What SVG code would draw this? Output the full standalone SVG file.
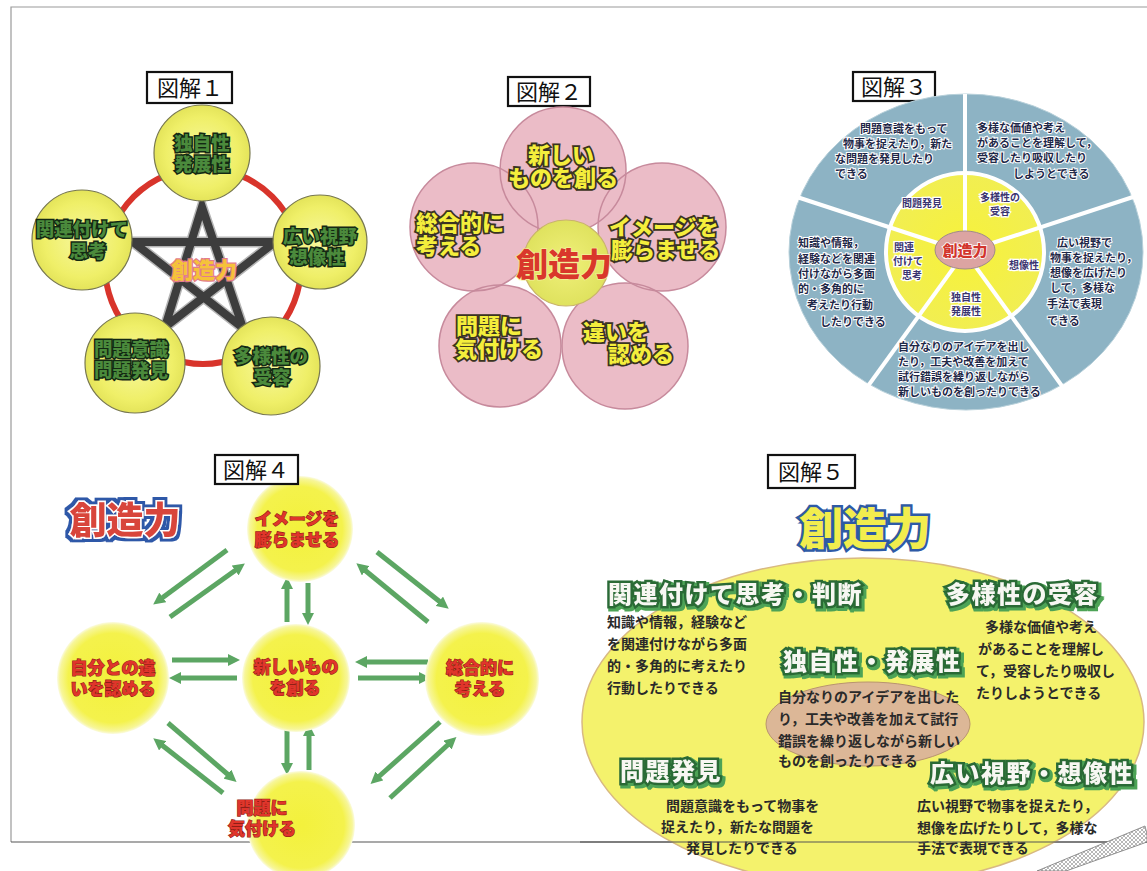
<svg xmlns="http://www.w3.org/2000/svg" width="1147" height="871" viewBox="0 0 1147 871">
<style>
text{font-family:'Noto Sans CJK JP','Noto Sans CJK SC',sans-serif;}
.box{fill:#fff;stroke:#111;stroke-width:2.2}
.ttl{font-size:22px;fill:#111;text-anchor:middle}
.n1{fill:url(#g1);stroke:#77774f;stroke-width:1.2}
.l1{font-size:18.5px;font-weight:900;fill:#4b8a3c;stroke:#132813;stroke-width:3;paint-order:stroke;text-anchor:middle}
.pf{fill:#ebbcc7}
.po{fill:none;stroke:#c78a9c;stroke-width:1.5}
.l2{font-size:22px;font-weight:900;fill:#f4ee3c;stroke:#3a3322;stroke-width:3.6;paint-order:stroke}
.l3o{font-size:11px;font-weight:700;fill:#1f2848;stroke:#fff;stroke-width:2;paint-order:stroke}
.l3i{font-size:10px;font-weight:700;fill:#3b3470;stroke:#fff;stroke-width:2.4;paint-order:stroke;text-anchor:middle}
.sep{stroke:#fff;stroke-width:4}
.n4{fill:url(#g4)}
.l4{font-size:17px;font-weight:900;fill:#e0352b;stroke:#8f1e16;stroke-width:1.2;paint-order:stroke;text-anchor:middle}
.ar{fill:none;stroke:#5ca663;stroke-width:5;marker-end:url(#ah)}
.h5{font-size:24px;font-weight:900;fill:#f7f7f2;stroke:#2a6a36;stroke-width:5;paint-order:stroke;letter-spacing:1.5px;filter:url(#sh)}
.b5{font-size:14px;font-weight:700;fill:#2a2a2a}
</style>
<defs>
<radialGradient id="g1" cx="0.5" cy="0.5" r="0.5"><stop offset="0" stop-color="#f7f79c"/><stop offset="0.75" stop-color="#efef68"/><stop offset="1" stop-color="#e4e45a"/></radialGradient>
<radialGradient id="g2" cx="0.5" cy="0.5" r="0.5"><stop offset="0" stop-color="#f0f07a"/><stop offset="1" stop-color="#dfe25e"/></radialGradient>
<radialGradient id="g3" cx="0.5" cy="0.5" r="0.5"><stop offset="0" stop-color="#f7f23a"/><stop offset="1" stop-color="#f1ee52"/></radialGradient>
<radialGradient id="g4" cx="0.5" cy="0.5" r="0.5"><stop offset="0" stop-color="#f3f13c"/><stop offset="0.8" stop-color="#f4f24c"/><stop offset="0.95" stop-color="#f7f69a"/><stop offset="1" stop-color="#fbfbe2"/></radialGradient>
<marker id="ah" viewBox="0 0 10 10" refX="5" refY="5" markerWidth="2.4" markerHeight="2.4" orient="auto"><path d="M0,0 L10,5 L0,10 z" fill="#5ca663"/></marker>
<filter id="ob" x="-20%" y="-30%" width="140%" height="160%"><feMorphology in="SourceAlpha" operator="dilate" radius="2.5" result="d"/><feFlood flood-color="#2f58a8"/><feComposite in2="d" operator="in" result="o"/><feMerge><feMergeNode in="o"/><feMergeNode in="SourceGraphic"/></feMerge></filter>
<filter id="sh" x="-10%" y="-30%" width="120%" height="160%"><feMorphology in="SourceAlpha" operator="dilate" radius="1" result="d"/><feOffset in="d" dx="1.5" dy="1.5" result="o"/><feFlood flood-color="#4ea356"/><feComposite in2="o" operator="in" result="s"/><feMerge><feMergeNode in="s"/><feMergeNode in="SourceGraphic"/></feMerge></filter>
<pattern id="hatch" width="4" height="4" patternUnits="userSpaceOnUse"><rect width="4" height="4" fill="#fff"/><path d="M0,4 L4,0 M0,0 L4,4" stroke="#888" stroke-width="0.6"/></pattern>
</defs>

<!-- page frame -->
<g id="frame" fill="none">
<path d="M11,842 L11,7 L1147,7" stroke="#9a9a9a" stroke-width="1.2"/>
<path d="M11,842 L1147,842" stroke="#555" stroke-width="1.2"/>
</g>

<!-- ===== Diagram 1 ===== -->
<g id="d1">
<g id="d1-title"><rect class="box" x="147" y="72" width="85" height="31"/><text class="ttl" x="190" y="96">図解１</text></g>
<g id="d1-connectors">
<circle cx="203" cy="266" r="98" fill="none" stroke="#d8342b" stroke-width="6"/>
<path d="M202,207 L165,327 L275,242 L133,242 L243,328 Z" fill="none" stroke="#b5b5b5" stroke-width="11" stroke-linejoin="miter"/>
<path d="M202,207 L165,327 L275,242 L133,242 L243,328 Z" fill="none" stroke="#3d3d3d" stroke-width="8" stroke-linejoin="miter"/>
</g>
<g id="d1-top"><circle class="n1" cx="202" cy="153" r="48"/><text class="l1"><tspan x="202" y="150">独自性</tspan><tspan x="202" y="171">発展性</tspan></text></g>
<g id="d1-left"><circle class="n1" cx="82" cy="240" r="50"/><text class="l1"><tspan x="82" y="236">関連付けて</tspan><tspan x="88" y="258">思考</tspan></text></g>
<g id="d1-right"><circle class="n1" cx="320" cy="242" r="47"/><text class="l1"><tspan x="320" y="243">広い視野</tspan><tspan x="317" y="264">想像性</tspan></text></g>
<g id="d1-bl"><circle class="n1" cx="135" cy="363" r="50"/><text class="l1"><tspan x="131" y="356">問題意識</tspan><tspan x="131" y="377">問題発見</tspan></text></g>
<g id="d1-br"><circle class="n1" cx="271" cy="366" r="49"/><text class="l1"><tspan x="271" y="363">多様性の</tspan><tspan x="272" y="384">受容</tspan></text></g>
<g id="d1-center"><text x="204" y="278" font-size="22" font-weight="900" fill="#f5c23a" stroke="#e27d8c" stroke-width="2.5" paint-order="stroke" text-anchor="middle">創造力</text></g>
</g>

<!-- ===== Diagram 2 ===== -->
<g id="d2">
<g id="d2-title"><rect class="box" x="508" y="77" width="82" height="29"/><text class="ttl" x="549" y="100">図解２</text></g>
<g id="d2-petals">
<circle class="pf" cx="500" cy="346" r="61"/>
<circle class="pf" cx="625" cy="346" r="63"/>
<circle class="pf" cx="474" cy="227" r="64"/>
<circle class="pf" cx="662" cy="227" r="64"/>
<circle class="pf" cx="563" cy="170" r="63"/>
<circle class="po" cx="500" cy="346" r="61"/>
<circle class="po" cx="625" cy="346" r="63"/>
<circle class="po" cx="474" cy="227" r="64"/>
<circle class="po" cx="662" cy="227" r="64"/>
<circle class="po" cx="563" cy="170" r="63"/>
</g>
<g id="d2-n1"><text class="l2" text-anchor="middle"><tspan x="561" y="163">新しい</tspan><tspan x="563" y="186">ものを創る</tspan></text></g>
<g id="d2-n2"><text class="l2"><tspan x="416" y="231">総合的に</tspan><tspan x="416" y="254">考える</tspan></text></g>
<g id="d2-n3"><text class="l2"><tspan x="609" y="235">イメージを</tspan><tspan x="611" y="258">膨らませる</tspan></text></g>
<g id="d2-n4"><text class="l2"><tspan x="456" y="334">問題に</tspan><tspan x="455" y="357">気付ける</tspan></text></g>
<g id="d2-n5"><text class="l2"><tspan x="583" y="340">違いを</tspan><tspan x="608" y="362">認める</tspan></text></g>
<g id="d2-center"><circle cx="566" cy="263" r="43" fill="url(#g2)" stroke="#c9b46a" stroke-width="1.2"/><text x="564" y="276" font-size="32" font-weight="900" fill="#d9372b" stroke="#f3ef9a" stroke-width="1.5" paint-order="stroke" text-anchor="middle">創造力</text></g>
</g>

<!-- ===== Diagram 3 ===== -->
<g id="d3">
<g id="d3-title"><rect class="box" x="853" y="72" width="82" height="29"/><text class="ttl" x="894" y="95">図解３</text></g>
<g id="d3-wheel">
<ellipse cx="966" cy="252" rx="177" ry="158" fill="#8db3c4" stroke="#b7d0da" stroke-width="1"/>
<circle cx="965" cy="252" r="79" fill="url(#g3)" stroke="#fff" stroke-width="4"/>
<line class="sep" x1="965" y1="252" x2="965" y2="94"/>
<line class="sep" x1="965" y1="252" x2="1133" y2="197"/>
<line class="sep" x1="965" y1="252" x2="1062" y2="386"/>
<line class="sep" x1="965" y1="252" x2="868" y2="386"/>
<line class="sep" x1="965" y1="252" x2="797" y2="197"/>
<ellipse cx="965" cy="250" rx="30" ry="19" fill="#dca4a2" stroke="#a08a8a" stroke-width="1"/>
<text x="965" y="256" font-size="15" font-weight="900" fill="#d2352d" stroke="#fff" stroke-width="1.5" paint-order="stroke" text-anchor="middle">創造力</text>
</g>
<g id="d3-s1"><text class="l3i" x="922" y="207">問題発見</text>
<text class="l3o"><tspan x="860" y="133">問題意識をもって</tspan><tspan x="843" y="148">物事を捉えたり，新た</tspan><tspan x="835" y="163">な問題を発見したり</tspan><tspan x="835" y="178">できる</tspan></text></g>
<g id="d3-s2"><text class="l3i"><tspan x="1000" y="201">多様性の</tspan><tspan x="1000" y="215">受容</tspan></text>
<text class="l3o"><tspan x="977" y="132">多様な価値や考え</tspan><tspan x="977" y="147">があることを理解して，</tspan><tspan x="977" y="162">受容したり吸収したり</tspan><tspan x="1013" y="178">しようとできる</tspan></text></g>
<g id="d3-s3"><text class="l3i" x="1024" y="269">想像性</text>
<text class="l3o"><tspan x="1057" y="247">広い視野で</tspan><tspan x="1050" y="262">物事を捉えたり，</tspan><tspan x="1050" y="277">想像を広げたり</tspan><tspan x="1050" y="292">して，多様な</tspan><tspan x="1047" y="308">手法で表現</tspan><tspan x="1047" y="325">できる</tspan></text></g>
<g id="d3-s4"><text class="l3i"><tspan x="966" y="301">独自性</tspan><tspan x="966" y="315">発展性</tspan></text>
<text class="l3o" font-size="11.8"><tspan x="898" y="351">自分なりのアイデアを出し</tspan><tspan x="898" y="366">たり，工夫や改善を加えて</tspan><tspan x="898" y="381">試行錯誤を繰り返しながら</tspan><tspan x="898" y="396">新しいものを創ったりできる</tspan></text></g>
<g id="d3-s5"><text class="l3i"><tspan x="904" y="251">関連</tspan><tspan x="908" y="265">付けて</tspan><tspan x="912" y="279">思考</tspan></text>
<text class="l3o"><tspan x="798" y="247">知識や情報，</tspan><tspan x="798" y="263">経験などを関連</tspan><tspan x="798" y="278">付けながら多面</tspan><tspan x="798" y="293">的・多角的に</tspan><tspan x="807" y="309">考えたり行動</tspan><tspan x="820" y="326">したりできる</tspan></text></g>
</g>

<!-- ===== Diagram 4 ===== -->
<g id="d4">
<g id="d4-heading"><text x="125" y="534" font-size="37" font-weight="900" fill="#d8443b" stroke="#fff" stroke-width="3" paint-order="stroke" text-anchor="middle" filter="url(#ob)">創造力</text></g>
<g id="d4-connectors">
<line class="ar" x1="227" y1="550" x2="158" y2="601"/>
<line class="ar" x1="170" y1="617" x2="240" y2="567"/>
<line class="ar" x1="377" y1="552" x2="444" y2="605"/>
<line class="ar" x1="428" y1="622" x2="361" y2="567"/>
<line class="ar" x1="287" y1="622" x2="287" y2="583"/>
<line class="ar" x1="308" y1="583" x2="308" y2="619"/>
<line class="ar" x1="172" y1="660" x2="234" y2="660"/>
<line class="ar" x1="237" y1="678" x2="175" y2="678"/>
<line class="ar" x1="428" y1="662" x2="361" y2="662"/>
<line class="ar" x1="358" y1="678" x2="425" y2="678"/>
<line class="ar" x1="287" y1="727" x2="287" y2="769"/>
<line class="ar" x1="309" y1="770" x2="309" y2="730"/>
<line class="ar" x1="168" y1="723" x2="232" y2="778"/>
<line class="ar" x1="223" y1="793" x2="158" y2="742"/>
<line class="ar" x1="440" y1="722" x2="375" y2="780"/>
<line class="ar" x1="390" y1="798" x2="452" y2="741"/>
</g>
<g id="d4-top"><circle class="n4" cx="300" cy="529" r="53"/><text class="l4"><tspan x="297" y="525">イメージを</tspan><tspan x="297" y="546">膨らませる</tspan></text></g>
<g id="d4-center"><circle class="n4" cx="296" cy="678" r="54"/><text class="l4"><tspan x="296" y="673">新しいもの</tspan><tspan x="295" y="694">を創る</tspan></text></g>
<g id="d4-left"><circle class="n4" cx="113" cy="678" r="56"/><text class="l4"><tspan x="113" y="674">自分との違</tspan><tspan x="113" y="695">いを認める</tspan></text></g>
<g id="d4-right"><circle class="n4" cx="482" cy="679" r="57"/><text class="l4"><tspan x="480" y="674">総合的に</tspan><tspan x="480" y="695">考える</tspan></text></g>
<g id="d4-bottom"><circle class="n4" cx="301" cy="825" r="54"/><text class="l4" text-anchor="start"><tspan x="262" y="814">問題に</tspan><tspan x="262" y="835">気付ける</tspan></text></g>
<g id="d4-title"><rect class="box" x="215" y="455" width="83" height="29"/><text class="ttl" x="256" y="478">図解４</text></g>
</g>

<!-- ===== Diagram 5 ===== -->
<g id="d5">
<g id="d5-title"><rect class="box" x="768" y="455" width="87" height="33"/><text class="ttl" x="811" y="480">図解５</text></g>
<g id="d5-heading"><text x="865" y="545" font-size="44" font-weight="900" fill="#f2ed4e" stroke="#2e5aa6" stroke-width="5" paint-order="stroke" text-anchor="middle">創造力</text></g>
<g id="d5-field"><ellipse cx="863" cy="722" rx="281" ry="164" fill="#f4f26c" stroke="#d8b982" stroke-width="1.5"/></g>
<g id="d5-core"><ellipse cx="868" cy="724" rx="102" ry="42" fill="#dcb797" stroke="#b9946f" stroke-width="1"/>
<text class="h5" x="783" y="670">独自性・発展性</text>
<text class="b5"><tspan x="778" y="702">自分なりのアイデアを出した</tspan><tspan x="778" y="724">り，工夫や改善を加えて試行</tspan><tspan x="778" y="746">錯誤を繰り返しながら新しい</tspan><tspan x="778" y="766">ものを創ったりできる</tspan></text></g>
<g id="d5-kanren"><text class="h5" x="608" y="603">関連付けて思考・判断</text>
<text class="b5"><tspan x="607" y="627">知識や情報，経験など</tspan><tspan x="607" y="649">を関連付けながら多面</tspan><tspan x="607" y="671">的・多角的に考えたり</tspan><tspan x="607" y="693">行動したりできる</tspan></text></g>
<g id="d5-tayou"><text class="h5" x="946" y="603">多様性の受容</text>
<text class="b5"><tspan x="985" y="632">多様な価値や考え</tspan><tspan x="978" y="654">があることを理解し</tspan><tspan x="976" y="676">て，受容したり吸収し</tspan><tspan x="976" y="698">たりしようとできる</tspan></text></g>
<g id="d5-mondai"><text class="h5" x="620" y="780">問題発見</text>
<text class="b5"><tspan x="666" y="811">問題意識をもって物事を</tspan><tspan x="661" y="832">捉えたり，新たな問題を</tspan><tspan x="686" y="853">発見したりできる</tspan></text></g>
<g id="d5-hiroi"><text class="h5" x="930" y="782">広い視野・想像性</text>
<text class="b5"><tspan x="917" y="811">広い視野で物事を捉えたり，</tspan><tspan x="917" y="833">想像を広げたりして，多様な</tspan><tspan x="917" y="853">手法で表現できる</tspan></text></g>
</g>

<!-- bottom frame line over diagram 5 and hatch -->
<g id="frame-bottom">
<path d="M580,842 L1147,842" stroke="#555" stroke-width="1.2"/>
<polygon points="1037,871 1145,826 1147,834 1147,842 1066,871" fill="url(#hatch)" stroke="#777" stroke-width="0.8"/>
</g>
</svg>
